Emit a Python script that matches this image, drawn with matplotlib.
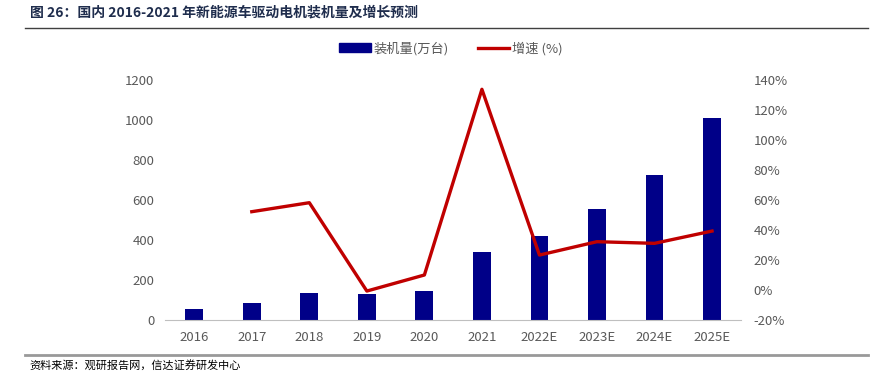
import matplotlib.pyplot as plt
import numpy as np
from matplotlib.lines import Line2D
from matplotlib.patches import Patch
from matplotlib.ticker import FuncFormatter

plt.rcParams['font.family'] = ['Noto Sans CJK SC', 'DejaVu Sans']

years = ["2016", "2017", "2018", "2019", "2020", "2021", "2022E", "2023E", "2024E", "2025E"]
installed = [55, 83, 133, 130, 145, 342, 420, 553, 723, 1008]  # 万台
growth = [np.nan, 52.2, 58.2, -0.7, 10.0, 133.8, 23.3, 32.2, 31.1, 39.3]  # %

bar_color = "#000088"
line_color = "#C00000"
text_gray = "#595959"

fig = plt.figure(figsize=(8.77, 3.82), dpi=100)
ax = fig.add_axes([0.1887, 0.1623, 0.656, 0.6283])
ax2 = ax.twinx()

x = np.arange(len(years))
ax.bar(x, installed, width=0.31, color=bar_color, zorder=2)
ax2.plot(x, growth, color=line_color, linewidth=2.4, zorder=3)

ax.set_ylim(0, 1200)
ax.set_yticks(range(0, 1201, 200))
ax2.set_ylim(-20, 140)
ax2.set_yticks(range(-20, 141, 20))
ax2.yaxis.set_major_formatter(FuncFormatter(lambda v, p: f"{v:.0f}%"))
ax.set_xlim(-0.5, len(years) - 0.5)
ax.set_xticks(x)
ax.set_xticklabels(years)

for a in (ax, ax2):
    for s in a.spines.values():
        s.set_visible(False)
    a.tick_params(length=0, colors=text_gray, labelsize=9.5)
ax.spines["bottom"].set_visible(True)
ax.spines["bottom"].set_color("#BFBFBF")
ax.tick_params(axis="y", pad=8)
ax2.tick_params(axis="y", pad=9)
ax.tick_params(axis="x", pad=8)

handles = [Patch(color=bar_color), Line2D([], [], color=line_color, linewidth=2.4)]
fig.legend(handles, ["装机量(万台)", "增速 (%)"], loc="center", bbox_to_anchor=(0.514, 0.873),
           ncol=2, frameon=False, fontsize=9.5, labelcolor=text_gray,
           handlelength=2.4, handleheight=0.7, columnspacing=2.2, handletextpad=0.2)

fig.text(0.034, 0.968, "图 26：国内 2016-2021 年新能源车驱动电机装机量及增长预测",
         fontsize=10, fontweight="bold", color="#1F2D4D", va="center")
fig.add_artist(Line2D([0.028, 0.99], [0.928, 0.928], color="#404040", linewidth=1.0))
fig.add_artist(Line2D([0.028, 0.99], [0.071, 0.071], color="#999999", linewidth=2.0))
fig.text(0.034, 0.045, "资料来源：观研报告网，信达证券研发中心", fontsize=8,
         style="italic", color="#000000", va="center")

fig.savefig("out.png", dpi=100)
